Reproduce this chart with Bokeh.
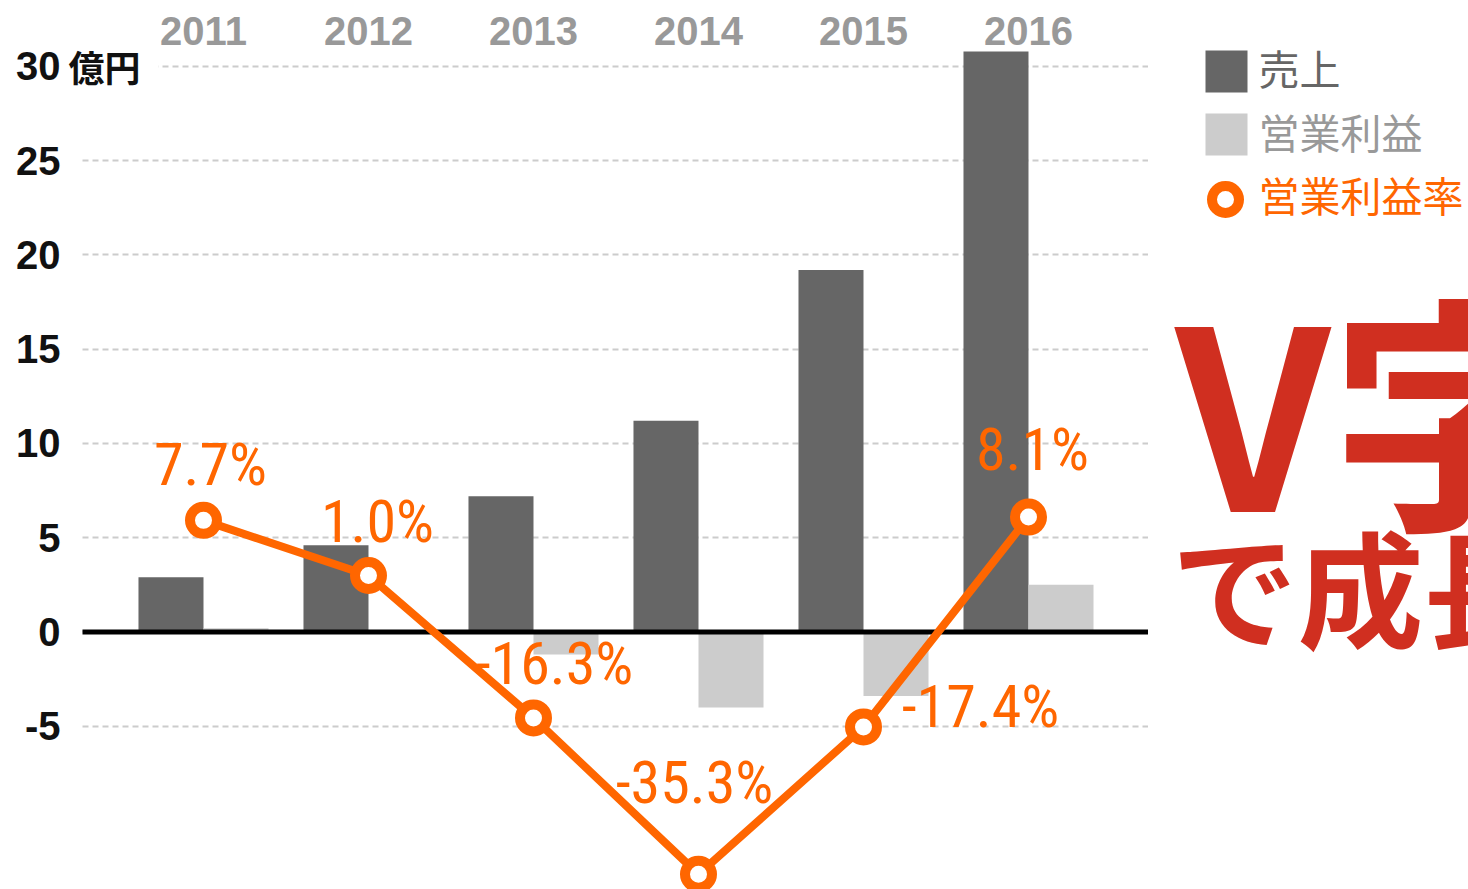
from bokeh.plotting import figure
from bokeh.models import Range1d, FixedTicker, Label, ColumnDataSource
from bokeh.layouts import row
from bokeh.transform import dodge
from bokeh.core.properties import value
from bokeh.embed import file_html
from bokeh.resources import INLINE

# ---- data ----
years = ["2011", "2012", "2013", "2014", "2015", "2016"]
sales = [2.9, 4.6, 7.2, 11.2, 19.2, 30.8]          # 売上 (億円)
op_profit = [0.2, 0.05, -1.2, -4.0, -3.4, 2.5]      # 営業利益 (億円)
op_margin = [7.7, 1.0, -16.3, -35.3, -17.4, 8.1]    # 営業利益率 (%)
margin_labels = ["7.7%", "1.0%", "-16.3%", "-35.3%", "-17.4%", "8.1%"]
y_ticks = [-5, 0, 5, 10, 15, 20, 25, 30]
y_tick_labels = ["-5", "0", "5", "10", "15", "20", "25", "30"]
legend_names = ["売上", "営業利益", "営業利益率"]

# ---- styles ----
DARK = "#666666"
LIGHT = "#cccccc"
ORANGE = "#ff6600"
RED = "#d02f20"
COND = "Roboto Condensed, Roboto"
label_dx = [7, 9, 21, -4, 117, 4]
label_dy = [-56, -54, -54, -92, -20, -68]

idx = list(range(len(years)))
src = ColumnDataSource(dict(x=idx, sales=sales, op=op_profit, rate=op_margin,
                            lab=margin_labels, dx=label_dx, dy=label_dy))

X0, X1 = -0.8545, 5.7273
GX0 = -0.7333           # left end of the grid lines
Y0, Y1 = -13.66, 33.50
RA, RB = 2.56, 0.4366   # margin axis: value = RA + RB * percent

p = figure(width=1148, height=889, x_range=Range1d(X0, X1),
           y_range=Range1d(Y0, Y1), x_axis_type=None,
           output_backend="svg", toolbar_location=None,
           min_border_left=62, min_border_right=0, min_border_top=0, min_border_bottom=0)
p.outline_line_color = None
p.extra_y_ranges = {"rate": Range1d((Y0 - RA) / RB, (Y1 - RA) / RB)}

ax = p.yaxis[0]
ax.ticker = FixedTicker(ticks=y_ticks)
ax.major_label_overrides = {t: s for t, s in zip(y_ticks, y_tick_labels)}
ax.axis_line_color = None
ax.major_tick_line_color = None
ax.minor_tick_line_color = None
ax.major_tick_out = 0
ax.major_tick_in = 0
ax.major_label_standoff = 2
ax.major_label_text_font = "Liberation Sans"
ax.major_label_text_font_style = "bold"
ax.major_label_text_font_size = "40px"
ax.major_label_text_color = "#111111"

g = p.ygrid[0]
g.grid_line_color = LIGHT
g.grid_line_width = 2
g.grid_line_dash = "6 4"
if "cross_bounds" in g.properties():
    g.cross_bounds = (GX0, X1)

bw = 0.394
p.vbar(x=dodge("x", -bw / 2), top="sales", bottom=0, width=bw, source=src,
       fill_color=DARK, line_color=None)
p.vbar(x=dodge("x", bw / 2), top="op", bottom=0, width=bw, source=src,
       fill_color=LIGHT, line_color=None)
p.segment(x0=[GX0], y0=[0], x1=[X1], y1=[0], line_color="black", line_width=5)

p.line(x="x", y="rate", source=src, y_range_name="rate", line_color=ORANGE, line_width=8)
p.scatter(x="x", y="rate", source=src, y_range_name="rate", size=27, marker="circle",
          fill_color="white", line_color=ORANGE, line_width=10)
p.text(x="x", y="rate", text="lab", source=src, y_range_name="rate",
       x_offset="dx", y_offset="dy", text_align="center", text_baseline="middle",
       text_color=ORANGE, text_font=value(COND), text_font_size="60px")

# year labels along the top
p.text(x=idx, y=[Y1] * len(years), text=years, y_offset=30, text_align="center",
       text_baseline="middle", text_color="#999999", text_font=value("Liberation Sans"),
       text_font_style="bold", text_font_size="40px")

# unit next to the 30 tick
p.add_layout(Label(x=X0, y=30, x_offset=6, text="億円\u2002", text_baseline="middle",
                   text_align="left", text_font="Noto Sans CJK JP", text_font_style="bold",
                   text_font_size="36px", text_color="#111111",
                   background_fill_color="white"))

# ---- right panel: legend + headline ----
q = figure(width=320, height=889, x_range=Range1d(0, 320), y_range=Range1d(889, 0),
           x_axis_type=None, y_axis_type=None, output_backend="svg", toolbar_location=None,
           min_border=0)
q.outline_line_color = None
q.grid.visible = False

q.scatter(x=[78], y=[71], marker="square", size=42, fill_color=DARK, line_color=None)
q.scatter(x=[78], y=[134], marker="square", size=42, fill_color=LIGHT, line_color=None)
q.scatter(x=[77], y=[199], marker="circle", size=27, fill_color="white",
          line_color=ORANGE, line_width=10)
q.text(x=[110, 110, 110], y=[66.5, 130, 193.5], text=legend_names,
       text_color=[DARK, "#999999", ORANGE], text_baseline="middle", text_align="left",
       text_font=value("Noto Sans CJK JP"), text_font_size="41px")

q.text(x=[27], y=[402], text=["V字"], text_baseline="middle", text_align="left",
       text_color=RED, text_font=value("Noto Sans CJK JP"), text_font_style="bold",
       text_font_size="250px")
q.text(x=[23], y=[583], text=["で成長"], text_baseline="middle", text_align="left",
       text_color=RED, text_font=value("Noto Sans CJK JP"), text_font_style="bold",
       text_font_size="126px")

layout = row(p, q)
open("out.html", "w").write(file_html(layout, INLINE))
